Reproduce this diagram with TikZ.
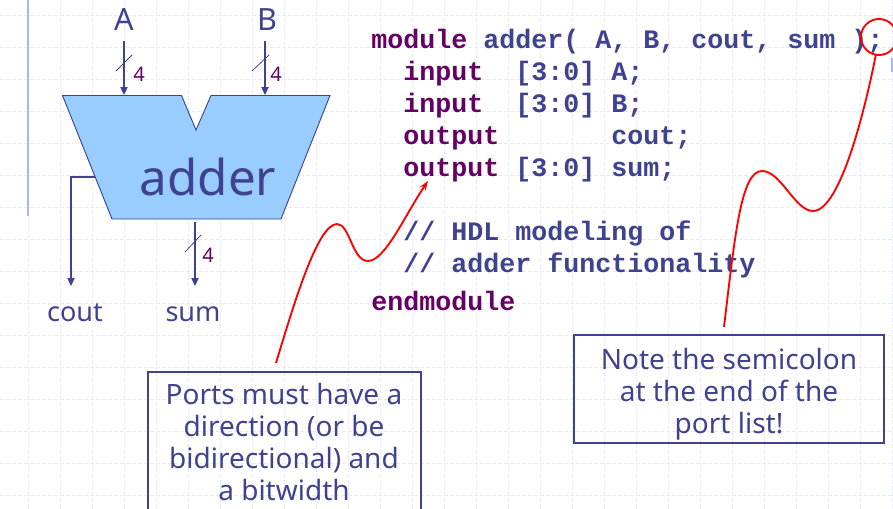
\documentclass[tikz,border=0pt]{standalone}
\usepackage{fontspec}
\setmainfont{Noto Sans}
\newfontfamily\codefont{Liberation Mono}[BoldFont={Liberation Mono Bold}]
\usetikzlibrary{arrows.meta}
\definecolor{ink}{HTML}{3F438F}
\definecolor{kw}{HTML}{660066}
\definecolor{gridc}{HTML}{E6EAFA}
\definecolor{fillc}{HTML}{99CCFF}
\definecolor{railc}{HTML}{A8B6F2}
\newcommand{\K}[1]{\textcolor{kw}{#1}}
\tikzset{
  x=0.75pt,y=-0.75pt,
  gridline/.style={gridc,line width=0.75pt,dash pattern=on 3pt off 1.5pt},
  wire/.style={ink,line width=0.85pt},
  arrowwire/.style={wire,-{Triangle[length=6pt,width=5.5pt]}},
  slash/.style={ink,line width=0.6pt},
  redcurve/.style={red,line width=1.4pt},
  portlabel/.style={anchor=base,text=ink,inner sep=0pt,font=\fontsize{23}{23}\selectfont},
  widthlabel/.style={text=kw,inner sep=0pt,font=\fontsize{15}{15}\selectfont},
  codeline/.style={anchor=base west,inner sep=0pt,text=ink,font=\codefont\bfseries\fontsize{20}{20}\selectfont},
  notetext/.style={anchor=base,text=ink,inner sep=0pt,font=\fontsize{21}{24}\selectfont},
  notebox/.style={draw=ink,line width=1.5pt,fill=none},
}
\begin{document}
\begin{tikzpicture}
\useasboundingbox (0,0) rectangle (893,508);
\fill[white] (0,0) rectangle (893,508);
% background grid
\foreach \gy in {15,47,...,527} \draw[gridline] (0,\gy) -- (893,\gy);
\foreach \gx in {28,60,...,892} \draw[gridline] (\gx,0) -- (\gx,508);
\draw[railc,line width=1.5pt] (27.5,0) -- (27.5,216);
\draw[railc,line width=1.5pt] (892,58) -- (892,72);
% adder body
\coordinate (tl) at (62.5,95.5);
\coordinate (tr) at (330,95.5);
\coordinate (br) at (281,219);
\coordinate (bl) at (112,219);
\draw[fill=fillc,draw=ink,line width=0.7pt] (tl) -- (181.5,95.5) -- (196,130) -- (211,95.5) -- (tr) -- (br) -- (bl) -- cycle;
\node[text=ink,inner sep=0pt,font=\fontsize{37}{37}\selectfont] (addername) at (208,177) {adder};
% ports
\node[portlabel] (A) at (124,30) {A};
\node[portlabel] (B) at (267,30) {B};
\node[portlabel,font=\fontsize{20.3}{21}\selectfont] (cout) at (75,321) {cout};
\node[portlabel,font=\fontsize{20.3}{21}\selectfont] (sum) at (193,321) {sum};
\coordinate (as) at (124,41); \coordinate (ae) at (124,95);
\coordinate (bs) at (265,41); \coordinate (be) at (265,95);
\coordinate (ss) at (195,222); \coordinate (se) at (195,286);
\coordinate (cs) at (95,177); \coordinate (cm) at (71,177); \coordinate (ce) at (71,286);
\draw[arrowwire] (as) -- (ae);
\draw[arrowwire] (bs) -- (be);
\draw[arrowwire] (ss) -- (se);
\draw[arrowwire] (cs) -- (cm) -- (ce);
\draw[slash] (116,71) -- (132,55);
\draw[slash] (252,71) -- (269,55);
\draw[slash] (185,252) -- (201,235);
\node[widthlabel] (wa) at (139,74) {4};
\node[widthlabel] (wb) at (276,74) {4};
\node[widthlabel] (ws) at (208,255) {4};
% code
\node[codeline] (l1) at (371,48) {\K{module} adder( A, B, cout, sum );};
\node[codeline] (l2) at (403,80) {\K{input}\ \ [3:0] A;};
\node[codeline] (l3) at (403,112) {\K{input}\ \ [3:0] B;};
\node[codeline] (l4) at (403,144) {\K{output}\ \ \ \ \ \ \ cout;};
\node[codeline] (l5) at (403,176) {\K{output} [3:0] sum;};
\node[codeline] (l6) at (403,240) {// HDL modeling of};
\node[codeline] (l7) at (403,272) {// adder functionality};
\node[codeline] (l8) at (371,310) {\K{endmodule}};
% notes
\draw[notebox] (148,372) rectangle (420.5,520);
\draw[notebox] (574,335) rectangle (884,443);
\node[notetext] (n1a) at (284,404) {Ports must have a};
\node[notetext] (n1b) at (284,436) {direction (or be};
\node[notetext] (n1c) at (284,468) {bidirectional) and};
\node[notetext] (n1d) at (284,500) {a bitwidth};
\node[notetext] (n2a) at (729,369) {Note the semicolon};
\node[notetext] (n2b) at (729,401) {at the end of the};
\node[notetext] (n2c) at (729,433) {port list!};
% callouts
\coordinate (c1s) at (276,363);
\coordinate (c1e) at (428,181);
\coordinate (c2s) at (724,327);
\coordinate (c2e) at (876,54);
\draw[redcurve,-{Stealth[length=7pt,width=5pt]}] (c1s) .. controls (295,300) and (318,224) .. (337,224) .. controls (350,224) and (352,261) .. (368,261) .. controls (385,261) and (405,215) .. (c1e);
\draw[redcurve] (c2s) .. controls (735,235) and (741,171) .. (762,171) .. controls (781,171) and (795,211) .. (813,211) .. controls (840,211) and (865,110) .. (c2e);
\draw[redcurve] (879,37) circle [radius=18];
\end{tikzpicture}
\end{document}
